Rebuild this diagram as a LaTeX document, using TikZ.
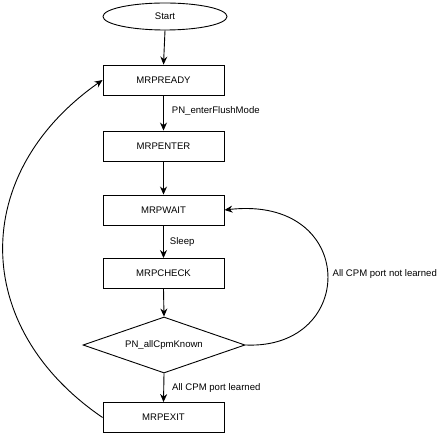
\documentclass[tikz,border=0pt]{standalone}
\usepackage{fontspec}
\setmainfont{Liberation Sans}
\usetikzlibrary{shapes.geometric,arrows.meta}
\begin{document}
\begin{tikzpicture}[x=1bp,y=-1bp,
  every node/.style={font=\fontsize{9.6}{11}\selectfont},
  statebox/.style={draw,line width=0.9bp,minimum width=121bp,minimum height=30bp,inner sep=0pt},
  startshape/.style={draw,ellipse,line width=0.9bp,minimum width=124bp,minimum height=27bp,inner sep=0pt},
  decision/.style={draw,diamond,line width=0.9bp,minimum width=162bp,minimum height=56bp,inner sep=0pt,aspect=2.9},
  flow/.style={line width=0.9bp,-{Stealth[length=8bp,width=7bp]}},
  lbl/.style={anchor=west,inner sep=0pt}]
\useasboundingbox (0,0) rectangle (444,435);
\node[startshape] (start) at (165,16.5) {Start};
\node[statebox] (ready) at (163.5,80) {MRPREADY};
\node[statebox] (enter) at (163.5,146) {MRPENTER};
\node[statebox] (wait) at (163.5,210) {MRPWAIT};
\node[statebox] (check) at (163.5,273.5) {MRPCHECK};
\node[decision] (known) at (164,345) {PN\_allCpmKnown};
\node[statebox] (exit) at (163.5,417.5) {MRPEXIT};

\draw[flow] (start.south) -- (ready.north);
\draw[flow] (ready.south) -- (enter.north) node[lbl,pos=0.45,xshift=8bp] {PN\_enterFlushMode};
\draw[flow] (enter.south) -- (wait.north);
\draw[flow] (wait.south) -- (check.north) node[lbl,pos=0.5,xshift=6bp] {Sleep};
\draw[flow] (check.south) -- (known.north);
\draw[flow] (known.south) -- (exit.north) node[lbl,pos=0.5,xshift=8bp] {All CPM port learned};

\draw[flow] (known.east) .. controls (358,350) and (358,195) .. (wait.east)
  node[lbl,pos=0.5,xshift=5bp] {All CPM port not learned};
\draw[flow] (exit.west) .. controls (-30,327) and (-30,173) .. (ready.west);
\end{tikzpicture}
\end{document}
